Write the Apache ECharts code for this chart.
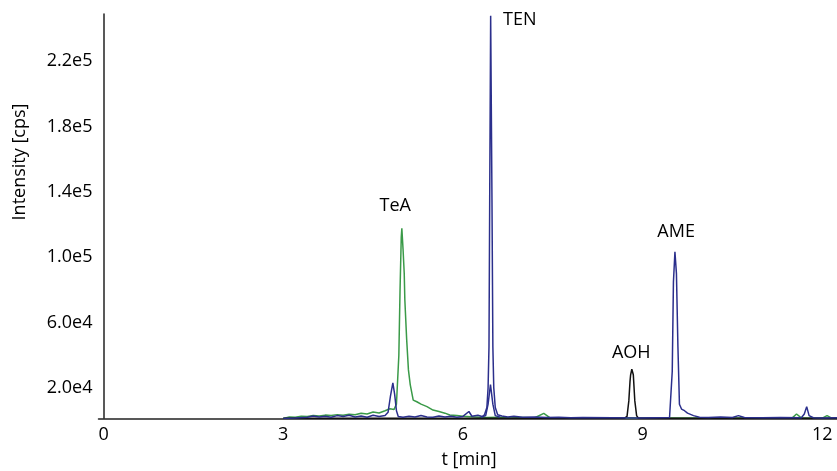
<!DOCTYPE html>
<html>
<head>
<meta charset="utf-8">
<script src="https://cdn.jsdelivr.net/npm/echarts@6/dist/echarts.min.js"></script>
<style>
html,body{margin:0;padding:0;background:#fff;}
#c{width:837px;height:471px;}
</style>
</head>
<body>
<div id="c"></div>
<script>
// time axis (min) and intensities in units of 1e3 cps
var xTicks = [0, 3, 6, 9, 12];
var yTicksK = [20, 60, 100, 140, 180, 220];

// TeA trace (green)
var greenT = [3.00,3.10,3.20,3.30,3.40,3.50,3.60,3.70,3.80,3.90,4.00,4.10,4.20,4.30,4.40,4.50,4.60,4.70,4.78,4.85,4.89,4.93,4.95,4.97,4.98,5.00,5.02,5.03,5.06,5.09,5.12,5.17,5.23,5.30,5.40,5.50,5.60,5.70,5.78,5.90,6.00,6.20,6.40,6.60,6.80,7.00,7.20,7.35,7.45,7.60,8.00,8.50,9.00,9.50,10.00,10.50,11.00,11.50,11.57,11.65,12.00,12.08,12.15,12.25];
var greenK = [1.2,2.2,2.0,2.6,2.4,3.0,2.7,3.3,3.0,3.6,3.2,3.9,3.5,4.4,4.0,5.2,4.6,6.0,7.2,6.8,10,40,80,112,117.7,105,90,74,50,31,22,12.5,11.5,10,8.5,6.4,5.5,4.5,3.4,3.0,2.6,2.2,1.8,2.0,1.6,1.8,1.7,4.4,1.8,1.5,1.6,1.5,1.6,1.5,1.6,1.5,1.5,1.6,4.0,1.6,1.5,3.0,1.6,1.6];

// TEN / AME trace (blue)
var blueT = [3.00,3.20,3.40,3.50,3.60,3.70,3.80,3.90,4.00,4.10,4.20,4.30,4.40,4.50,4.60,4.70,4.75,4.79,4.83,4.86,4.89,4.92,5.00,5.10,5.20,5.30,5.40,5.50,5.60,5.70,5.80,5.90,6.00,6.10,6.15,6.25,6.32,6.36,6.40,6.42,6.435,6.447,6.463,6.485,6.50,6.515,6.54,6.58,6.65,6.75,6.85,7.00,7.20,7.40,7.60,7.80,8.00,8.50,8.90,9.20,9.45,9.48,9.495,9.515,9.54,9.565,9.59,9.615,9.65,9.70,9.75,9.85,9.95,10.10,10.30,10.50,10.60,10.70,11.00,11.30,11.65,11.70,11.74,11.78,11.85,12.00,12.25];
var blueK = [1.3,1.5,2.0,2.8,2.2,2.6,2.0,3.0,2.4,3.2,2.2,2.8,2.0,3.2,2.4,3.0,5,15,23,16,6,2.5,2.0,2.6,2.2,3.0,2.2,2.0,2.8,2.2,2.6,2.0,2.5,5.5,2.6,3.2,2.4,3.5,8,20,45,135,248,135,45,20,8,3.5,2.8,2.2,2.6,2.0,2.2,1.8,2.0,1.7,1.8,1.7,1.6,1.7,1.8,3,30,85,103.4,90,45,10,7,6,4.5,3,2,1.8,2.2,1.8,3,1.8,1.7,1.8,1.7,4,8.5,3,1.7,1.6,1.7];

// second blue trace (small peak under TEN)
var blue2T = [6.30,6.38,6.42,6.46,6.50,6.54,6.62];
var blue2K = [2.0,3.0,10,22,10,3.0,2.0];

// AOH trace (black)
var blackT = [3.00,5.00,7.00,8.70,8.74,8.77,8.79,8.80,8.82,8.845,8.87,8.90,8.93,10.00,12.25];
var blackK = [1.4,1.4,1.4,1.4,2.5,12,24,28,31.4,28,12,3,1.4,1.4,1.4];

// peak annotations
var peakNames = ['TeA', 'TEN', 'AOH', 'AME'];
var peakT = [4.87, 6.95, 8.81, 9.56];
var peakK = [131.4, 245.3, 41.3, 115.5];

function pairs(t, v) { var out = []; for (var i = 0; i < t.length; i++) out.push([t[i], v[i]]); return out; }
var labelData = peakNames.map(function (n, i) { return { name: n, value: [peakT[i], peakK[i]] }; });

var FONT = 'Open Sans';
var TXT = '#000';
var chart = echarts.init(document.getElementById('c'), null, { renderer: 'canvas' });
chart.setOption({
  animation: false,
  backgroundColor: '#ffffff',
  grid: { left: 98.5, right: 0, top: 14, bottom: 52.7, containLabel: false, outerBoundsMode: 'none' },
  xAxis: {
    type: 'value', min: -0.085, max: 12.246,
    axisLine: { show: true, lineStyle: { color: '#222', width: 1.5 } },
    axisTick: { show: false },
    splitLine: { show: false },
    axisLabel: { customValues: xTicks, color: TXT, fontFamily: FONT, fontSize: 18, margin: 8 }
  },
  yAxis: {
    type: 'value', min: 1.35, max: 249,
    axisLine: { show: true, lineStyle: { color: '#222', width: 1.5 } },
    axisTick: { show: false },
    splitLine: { show: false },
    axisLabel: {
      customValues: yTicksK, color: TXT, fontFamily: FONT, fontSize: 18, margin: 6,
      formatter: function (v) { return (v * 1000).toExponential(1).replace('+', ''); }
    }
  },
  graphic: [
    { type: 'text', x: 469, y: 460, style: { text: 't [min]', fill: TXT, font: '18px "Open Sans"', align: 'center', verticalAlign: 'middle' } },
    { type: 'text', x: 20, y: 162, rotation: Math.PI / 2, style: { text: 'Intensity [cps]', fill: TXT, font: '18px "Open Sans"', align: 'center', verticalAlign: 'middle' } }
  ],
  series: [
    { type: 'line', data: pairs(greenT, greenK), showSymbol: false, lineStyle: { color: '#3a9a48', width: 1.5 }, itemStyle: { color: '#3a9a48' }, silent: true },
    { type: 'line', data: pairs(blackT, blackK), showSymbol: false, lineStyle: { color: '#111111', width: 1.5 }, itemStyle: { color: '#111' }, silent: true },
    { type: 'line', data: pairs(blue2T, blue2K), showSymbol: false, lineStyle: { color: '#2b2f8c', width: 1.5 }, itemStyle: { color: '#2b2f8c' }, silent: true },
    { type: 'line', data: pairs(blueT, blueK), showSymbol: false, lineStyle: { color: '#2b2f8c', width: 1.5 }, itemStyle: { color: '#2b2f8c' }, silent: true },
    { type: 'scatter', data: labelData, symbolSize: 1, silent: true, itemStyle: { color: 'rgba(0,0,0,0)', opacity: 1 },
      label: { show: true, position: 'inside', formatter: '{b}', color: TXT, opacity: 1, textBorderWidth: 0, textBorderColor: 'transparent', fontFamily: FONT, fontSize: 18 } }
  ]
});
</script>
</body>
</html>
